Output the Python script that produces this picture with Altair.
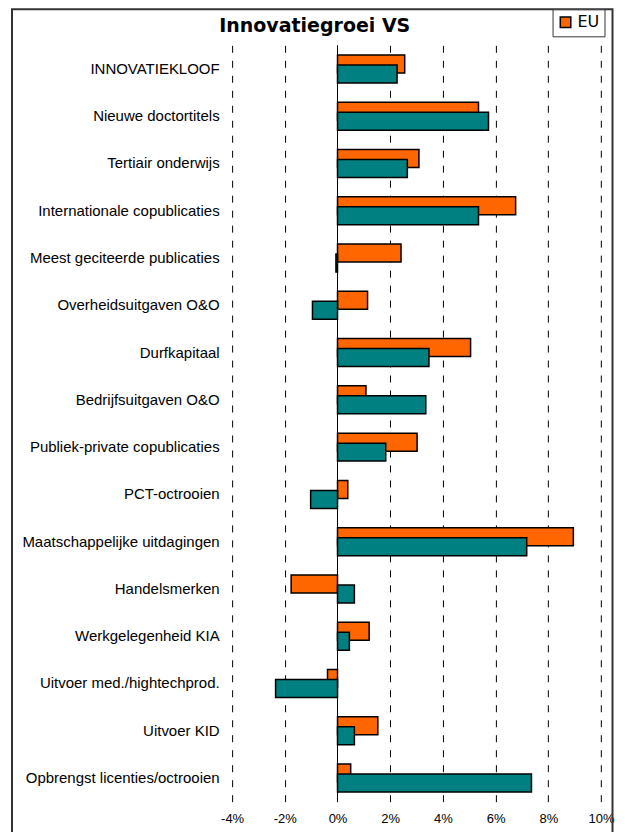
import altair as alt
import pandas as pd

categories = [
    "INNOVATIEKLOOF",
    "Nieuwe doctortitels",
    "Tertiair onderwijs",
    "Internationale copublicaties",
    "Meest geciteerde publicaties",
    "Overheidsuitgaven O&O",
    "Durfkapitaal",
    "Bedrijfsuitgaven O&O",
    "Publiek-private copublicaties",
    "PCT-octrooien",
    "Maatschappelijke uitdagingen",
    "Handelsmerken",
    "Werkgelegenheid KIA",
    "Uitvoer med./hightechprod.",
    "Uitvoer KID",
    "Opbrengst licenties/octrooien",
]
eu_values = [2.55, 5.35, 3.09, 6.76, 2.41, 1.14, 5.05, 1.08, 3.02, 0.39, 8.95, -1.76, 1.20, -0.38, 1.53, 0.50]
vs_values = [2.26, 5.73, 2.65, 5.35, -0.06, -0.95, 3.47, 3.35, 1.83, -1.02, 7.18, 0.64, 0.45, -2.35, 0.64, 7.36]
series_names = ["EU", "VS"]
series_colors = ["#FF6600", "#008080"]
x_ticks = [-4, -2, 0, 2, 4, 6, 8, 10]
title_text = "Innovatiegroei VS"

df = pd.DataFrame({
    "cat": categories * 2,
    "series": ["EU"] * len(categories) + ["VS"] * len(categories),
    "value": eu_values + vs_values,
})

y_enc = alt.Y(
    "cat:N", sort=categories,
    scale=alt.Scale(paddingInner=0, paddingOuter=0),
    axis=alt.Axis(title=None, domain=False, ticks=False, labelFont="Liberation Sans",
                  labelFontSize=15, labelColor="#000", labelPadding=13, labelLimit=300),
)
x_enc = alt.X(
    "value:Q",
    scale=alt.Scale(domain=[-4, 10], nice=False),
    axis=alt.Axis(values=x_ticks, labelExpr="datum.value + '%'", title=None, domain=False,
                  ticks=False, grid=True, gridDash=[7, 8], gridColor="#000", gridWidth=1,
                  gridOpacity=1, labelFontSize=13, labelFont="Liberation Sans",
                  labelColor="#000", labelPadding=11, labelFlush=False),
)
color_enc = alt.Color(
    "series:N",
    scale=alt.Scale(domain=series_names, range=series_colors),
    legend=alt.Legend(values=["EU"], title=None, orient="none", legendX=320.7, legendY=-36,
                      symbolType="square", symbolSize=110, symbolStrokeColor="#000",
                      symbolStrokeWidth=1.5, labelFont="DejaVu Sans", labelFontSize=16,
                      labelColor="#000", strokeColor="#333", fillColor="#fff", padding=5),
)

base = alt.Chart(df).encode(y=y_enc, x=x_enc, color=color_enc)
eu_bars = base.transform_filter("datum.series == 'EU'").mark_bar(
    height=18, yOffset=-5, stroke="#000", strokeWidth=1.5)
vs_bars = base.transform_filter("datum.series == 'VS'").mark_bar(
    height=18, yOffset=5, stroke="#000", strokeWidth=1.5)

zero_rule = alt.Chart(pd.DataFrame({"v": [0]})).mark_rule(color="#000", strokeWidth=1).encode(
    x=alt.X("v:Q"))

frame = alt.Chart(pd.DataFrame({"a": [0]})).mark_rect(
    fill="transparent", stroke="#333", strokeWidth=2).encode(
    x=alt.value(-220.3), x2=alt.value(380.7), y=alt.value(-36), y2=alt.value(900))

title = alt.Chart(pd.DataFrame({"t": [title_text]})).mark_text(
    font="DejaVu Sans", fontSize=19, fontWeight="bold", align="center",
    baseline="alphabetic", color="#000").encode(
    text="t:N", x=alt.value(82.7), y=alt.value(-13))

chart = alt.layer(frame, zero_rule, eu_bars, vs_bars, title).properties(
    width=369.2, height=757,
    autosize=alt.AutoSizeParams(type="none"),
    padding={"left": 224.3, "top": 37, "right": 16, "bottom": 30},
    background="#ffffff",
).configure_view(stroke=None)

chart.save("out.html", embed_options={"renderer": "svg", "actions": False})
